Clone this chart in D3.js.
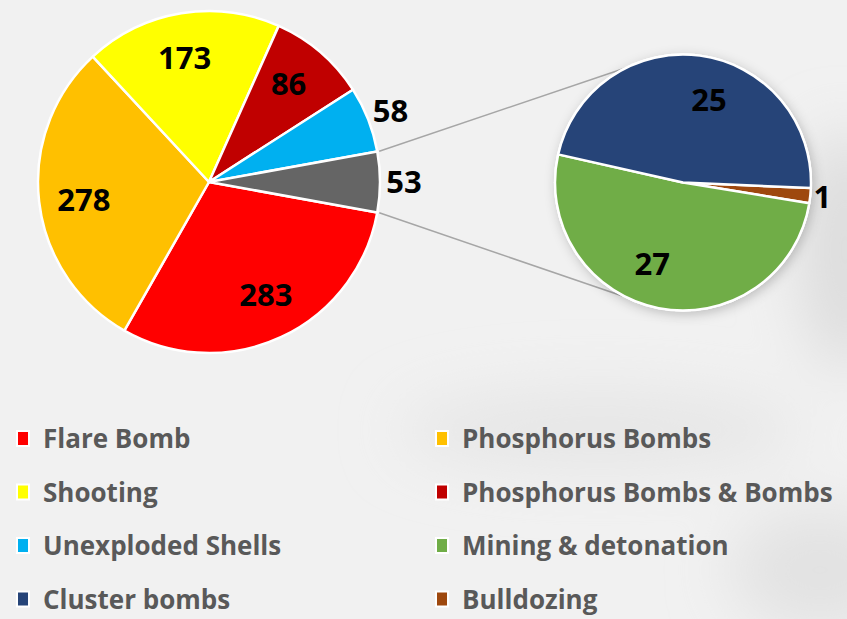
<!DOCTYPE html>
<html lang="en">
<head>
<meta charset="UTF-8">
<title>Pie of pie</title>
<script src="https://d3js.org/d3.v7.min.js"></script>
<style>
  html, body { margin: 0; padding: 0; background: #f0f0f0; }
  svg { display: block; }
</style>
</head>
<body>
<div id="chart"></div>
<script>
// data
var mainNames  = ["Flare Bomb", "Phosphorus Bombs", "Shooting", "Phosphorus Bombs & Bombs", "Unexploded Shells", "Other"];
var mainValues = [283, 278, 173, 86, 58, 53];
var subNames   = ["Bulldozing", "Mining & detonation", "Cluster bombs"];
var subValues  = [1, 27, 25];
var legendNames = ["Flare Bomb", "Phosphorus Bombs", "Shooting", "Phosphorus Bombs & Bombs",
                   "Unexploded Shells", "Mining & detonation", "Cluster bombs", "Bulldozing"];

var colors = {
  "Flare Bomb": "#ff0000",
  "Phosphorus Bombs": "#ffc000",
  "Shooting": "#ffff00",
  "Phosphorus Bombs & Bombs": "#c00000",
  "Unexploded Shells": "#00b0f0",
  "Other": "#656565",
  "Bulldozing": "#9e480e",
  "Mining & detonation": "#70ad47",
  "Cluster bombs": "#264478"
};

var width = 847, height = 619;
var svg = d3.select("#chart").append("svg")
    .attr("width", width)
    .attr("height", height);

var defs = svg.append("defs");
var blur = defs.append("filter").attr("id", "blur").attr("x", "-50%").attr("y", "-50%").attr("width", "200%").attr("height", "200%");
blur.append("feGaussianBlur").attr("stdDeviation", 30);
var shadow = defs.append("filter").attr("id", "shadow").attr("x", "-30%").attr("y", "-30%").attr("width", "160%").attr("height", "160%");
shadow.append("feDropShadow").attr("dx", 2).attr("dy", 3).attr("stdDeviation", 6)
    .attr("flood-color", "#000").attr("flood-opacity", 0.22);

// background: pale smoky grey
svg.append("rect").attr("width", width).attr("height", height).attr("fill", "#f1f1f1");
var blobs = svg.append("g").attr("filter", "url(#blur)");
blobs.append("ellipse").attr("cx", 845).attr("cy", 250).attr("rx", 45).attr("ry", 120).attr("fill", "#dcdcdc");
blobs.append("ellipse").attr("cx", 600).attr("cy", 430).attr("rx", 200).attr("ry", 40).attr("fill", "#e6e6e6");
blobs.append("ellipse").attr("cx", 820).attr("cy", 570).attr("rx", 90).attr("ry", 60).attr("fill", "#e2e2e2");

// main pie
var mainC = {x: 209, y: 182, r: 171};
var otherFrac = mainValues[mainValues.length - 1] / d3.sum(mainValues);
var a0 = Math.PI / 2 + otherFrac * Math.PI;   // "Other" slice centred on the right
var mainPie = d3.pie().sort(null).startAngle(a0).endAngle(a0 + 2 * Math.PI);
var mainArcs = mainPie(mainValues);

var mainG = svg.append("g").attr("transform", "translate(" + mainC.x + "," + mainC.y + ")");
var arcMain = d3.arc().innerRadius(0).outerRadius(mainC.r);
mainG.selectAll("path").data(mainArcs).enter().append("path")
    .attr("d", arcMain)
    .attr("fill", function(d, i) { return colors[mainNames[i]]; })
    .attr("stroke", "#fff").attr("stroke-width", 2.5).attr("stroke-linejoin", "round");

// sub pie
var subC = {x: 683, y: 182.5, r: 128};
var b0 = Math.PI / 2 + 2.5 * Math.PI / 180;
var subPie = d3.pie().sort(null).startAngle(b0).endAngle(b0 + 2 * Math.PI);
var subArcs = subPie(subValues);

// connector lines from the "Other" slice edges to the sub pie
var otherArc = mainArcs[mainArcs.length - 1];
function pt(c, ang, r) { return [c.x + r * Math.sin(ang), c.y - r * Math.cos(ang)]; }
var con = [
  [pt(mainC, otherArc.startAngle, mainC.r + 2), pt(subC, -26 * Math.PI / 180, subC.r)],
  [pt(mainC, otherArc.endAngle, mainC.r + 2), pt(subC, 206 * Math.PI / 180, subC.r)]
];
svg.append("g").selectAll("line").data(con).enter().append("line")
    .attr("x1", function(d) { return d[0][0]; }).attr("y1", function(d) { return d[0][1]; })
    .attr("x2", function(d) { return d[1][0]; }).attr("y2", function(d) { return d[1][1]; })
    .attr("stroke", "#a6a6a6").attr("stroke-width", 1.5);

var subG = svg.append("g").attr("transform", "translate(" + subC.x + "," + subC.y + ")");
subG.append("circle").attr("r", subC.r + 1).attr("fill", "#fff").attr("filter", "url(#shadow)");
var arcSub = d3.arc().innerRadius(0).outerRadius(subC.r);
subG.selectAll("path").data(subArcs).enter().append("path")
    .attr("d", arcSub)
    .attr("fill", function(d, i) { return colors[subNames[i]]; })
    .attr("stroke", "#fff").attr("stroke-width", 2.5).attr("stroke-linejoin", "round");

// value labels (small slices get their label outside)
function addLabels(g, arcs, r, total, inner, outer, shift) {
  g.selectAll("text.val").data(arcs).enter().append("text")
      .attr("class", "val")
      .attr("transform", function(d) {
        var small = d.value / total < 0.07;
        var a = (d.startAngle + d.endAngle) / 2 + (small ? 0 : shift);
        var rr = small ? outer : r * inner;
        return "translate(" + (rr * Math.sin(a)) + "," + (-rr * Math.cos(a)) + ")";
      })
      .attr("text-anchor", "middle")
      .attr("dy", "0.36em")
      .style("font-family", "'Open Sans', sans-serif")
      .style("font-weight", "bold")
      .style("font-size", "31px")
      .style("fill", "#000")
      .text(function(d) { return d.value; });
}
addLabels(mainG, mainArcs, mainC.r, d3.sum(mainValues), 0.74, mainC.r + 24, -0.03);
addLabels(subG, subArcs, subC.r, d3.sum(subValues), 0.68, subC.r + 12, 0.17);

// legend
var legend = svg.append("g");
var item = legend.selectAll("g").data(legendNames).enter().append("g")
    .attr("transform", function(d, i) {
      return "translate(" + (i % 2 === 0 ? 16 : 435) + "," + (439 + Math.floor(i / 2) * 53.5) + ")";
    });
item.append("rect")
    .attr("x", 1).attr("y", -8).attr("width", 12).attr("height", 15)
    .attr("fill", function(d) { return colors[d]; })
    .attr("stroke", "#fff").attr("stroke-width", 2);
item.append("text")
    .attr("x", 27).attr("dy", "0.35em")
    .style("font-family", "'Open Sans', sans-serif")
    .style("font-weight", "bold")
    .style("font-size", "26px")
    .style("fill", "#595959")
    .text(function(d) { return d; });
</script>
</body>
</html>
